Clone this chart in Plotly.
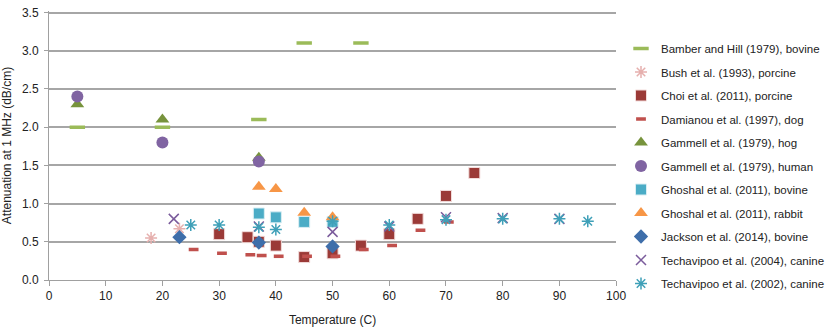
import plotly.graph_objects as go

# data
bamber_x = [5, 20, 37, 45, 55]
bamber_y = [2.0, 2.0, 2.1, 3.1, 3.1]
bush_x = [18, 23]
bush_y = [0.55, 0.67]
choi_x = [30, 35, 37, 40, 45, 50, 55, 60, 65, 70, 75]
choi_y = [0.60, 0.56, 0.50, 0.45, 0.30, 0.35, 0.45, 0.60, 0.80, 1.10, 1.40]
dami_x = [25.5, 30.5, 35.5, 37.5, 40.5, 45.5, 50.5, 55.5, 60.5, 65.5, 70.5]
dami_y = [0.40, 0.35, 0.33, 0.32, 0.31, 0.31, 0.31, 0.40, 0.45, 0.65, 0.76]
hog_x = [5, 20, 37]
hog_y = [2.3, 2.1, 1.6]
human_x = [5, 20, 37]
human_y = [2.4, 1.8, 1.55]
gbov_x = [37, 40, 45, 50]
gbov_y = [0.87, 0.82, 0.76, 0.76]
grab_x = [37, 40, 45, 50]
grab_y = [1.22, 1.19, 0.88, 0.82]
jack_x = [23, 37, 50]
jack_y = [0.56, 0.49, 0.44]
t04_x = [22, 37, 50, 60, 70, 80, 90]
t04_y = [0.80, 0.70, 0.63, 0.70, 0.82, 0.81, 0.80]
t02_x = [25, 30, 37, 40, 50, 60, 70, 80, 90, 95]
t02_y = [0.72, 0.72, 0.69, 0.66, 0.77, 0.72, 0.79, 0.80, 0.80, 0.77]

series = [
    ("Bamber and Hill (1979), bovine", bamber_x, bamber_y,
     dict(symbol="line-ew", size=11, line=dict(color="#9BBB59", width=3.5), color="#9BBB59")),
    ("Bush et al. (1993), porcine", bush_x, bush_y,
     dict(symbol="asterisk-open", size=10, color="#E6B0AE", line=dict(color="#E6B0AE", width=1.5))),
    ("Choi et al. (2011), porcine", choi_x, choi_y,
     dict(symbol="square", size=11, color="#9B3A37", line=dict(color="#F2DCDB", width=1))),
    ("Damianou et al. (1997), dog", dami_x, dami_y,
     dict(symbol="line-ew", size=7, line=dict(color="#C0504D", width=3.5), color="#C0504D")),
    ("Gammell et al. (1979), hog", hog_x, hog_y,
     dict(symbol="triangle-up", size=12, color="#77933C")),
    ("Gammell et al. (1979), human", human_x, human_y,
     dict(symbol="circle", size=12, color="#8064A2")),
    ("Ghoshal et al. (2011), bovine", gbov_x, gbov_y,
     dict(symbol="square", size=11, color="#4BACC6", line=dict(color="#DAEEF3", width=1))),
    ("Ghoshal et al. (2011), rabbit", grab_x, grab_y,
     dict(symbol="triangle-up", size=12, color="#F79646")),
    ("Jackson et al. (2014), bovine", jack_x, jack_y,
     dict(symbol="diamond", size=11, color="#3E6EAA")),
    ("Techavipoo et al. (2004), canine", t04_x, t04_y,
     dict(symbol="x-thin-open", size=10, color="#7B5C9C", line=dict(color="#7B5C9C", width=1.5))),
    ("Techavipoo et al. (2002), canine", t02_x, t02_y,
     dict(symbol="asterisk-open", size=10, color="#3FA0B8", line=dict(color="#3FA0B8", width=1.5))),
]

fig = go.Figure()
for i, (name, xs, ys, mk) in enumerate(series):
    fig.add_trace(go.Scatter(x=xs, y=ys, mode="markers", name=name,
                             marker=mk, legendgroup="g%d" % i))

W, H = 830, 327
ml, mr, mt, mb = 49, 0, 11, 47
paper_w = W - ml - mr
plot_w = 573
plot_h = H - mt - mb

axis_font = dict(family="Liberation Sans, Arial, sans-serif", size=12, color="#222222")
fig.update_layout(
    width=W, height=H,
    margin=dict(l=ml, r=mr, t=mt, b=mb),
    plot_bgcolor="white", paper_bgcolor="white",
    font=axis_font,
    showlegend=True,
    legend=dict(x=(627 - ml) / paper_w, y=1 - 23 / plot_h, xanchor="left", yanchor="top",
                font=dict(family="Liberation Sans, Arial, sans-serif", size=11.5, color="#222222"),
                tracegroupgap=4.5, itemwidth=30, bgcolor="rgba(0,0,0,0)"),
    xaxis=dict(range=[0, 100], dtick=10, domain=[0, plot_w / paper_w],
               showgrid=False, zeroline=False, automargin=False,
               showline=True, linecolor="#A0A0A0", linewidth=1,
               ticks="outside", ticklen=5, tickcolor="#A0A0A0",
               title=dict(text="Temperature (C)", font=dict(size=12))),
    # plotly drops gridlines within ~1px of the plot edge, so leave a little headroom above 3.5
    yaxis=dict(range=[0, 3.52], dtick=0.5, tickformat=".1f", showgrid=True, automargin=False,
               gridcolor="#A6A6A6", gridwidth=1.5, zeroline=False,
               showline=True, linecolor="#A0A0A0", linewidth=1,
               ticks="outside", ticklen=4, tickcolor="#A0A0A0", ticklabelstandoff=3,
               ticklabeloverflow="allow",
               title=dict(text="Attenuation at 1 MHz (dB/cm)", font=dict(size=12))),
)

# drop the default 8px page margin so the figure fills the window exactly
fig.write_html("out.html", config={"displayModeBar": False},
               post_script="document.body.style.margin='0';")
